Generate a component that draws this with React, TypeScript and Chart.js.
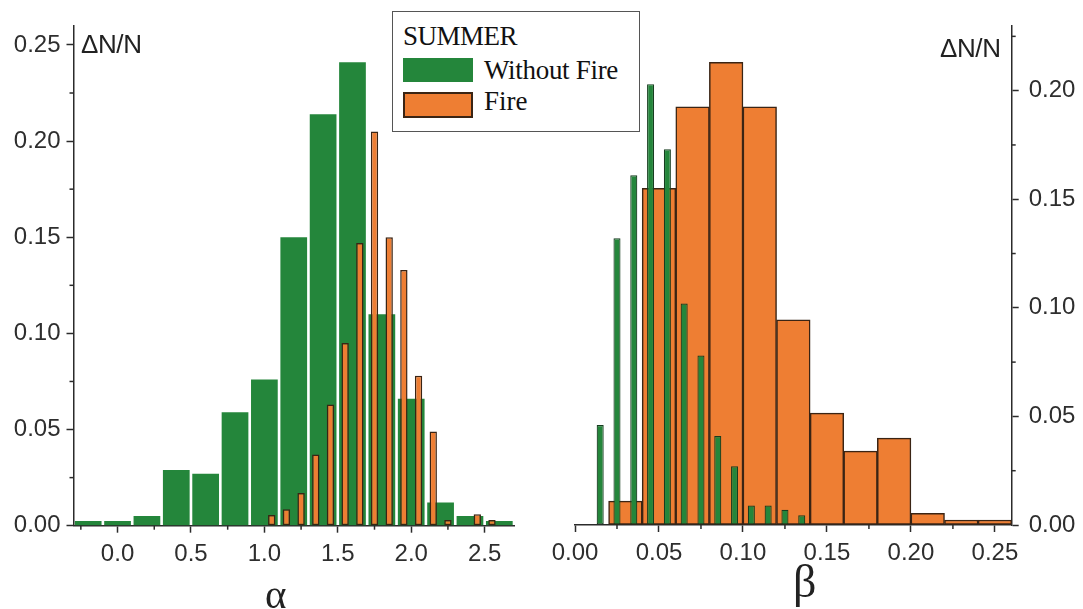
import React, { useEffect, useRef } from "react";
import { Chart, registerables } from "chart.js";

Chart.register(...registerables);

// ---------- data ----------
const alphaGreenCenters = [-0.2, 0.0, 0.2, 0.4, 0.6, 0.8, 1.0, 1.2, 1.4, 1.6, 1.8, 2.0, 2.2, 2.4, 2.6];
const alphaGreenValues = [0.0025, 0.0025, 0.005, 0.029, 0.027, 0.059, 0.076, 0.150, 0.214, 0.241, 0.110, 0.066, 0.012, 0.005, 0.0025];

const alphaFireCenters = [1.05, 1.15, 1.25, 1.35, 1.45, 1.55, 1.65, 1.75, 1.85, 1.95, 2.05, 2.15, 2.25, 2.35, 2.45, 2.55];
const alphaFireValues = [0.0055, 0.0085, 0.017, 0.037, 0.063, 0.095, 0.147, 0.205, 0.150, 0.133, 0.078, 0.049, 0.003, 0, 0.006, 0.003];

const betaGreenCenters = [0.015, 0.025, 0.035, 0.045, 0.055, 0.065, 0.075, 0.085, 0.095, 0.105, 0.115, 0.125, 0.135];
const betaGreenValues = [0.046, 0.132, 0.161, 0.203, 0.173, 0.102, 0.078, 0.041, 0.027, 0.009, 0.009, 0.007, 0.0045];

const betaFireCenters = [0.03, 0.05, 0.07, 0.09, 0.11, 0.13, 0.15, 0.17, 0.19, 0.21, 0.23, 0.25];
const betaFireValues = [0.011, 0.155, 0.1925, 0.213, 0.1925, 0.0945, 0.0515, 0.034, 0.040, 0.0054, 0.0023, 0.0023];

const alphaXTicks = [0.0, 0.5, 1.0, 1.5, 2.0, 2.5];
const alphaXMinor = [-0.25, 0.25, 0.75, 1.25, 1.75, 2.25];
const alphaYTicks = [0.0, 0.05, 0.1, 0.15, 0.2, 0.25];
const alphaYMinor = [0.025, 0.075, 0.125, 0.175, 0.225];

const betaXTicks = [0.0, 0.05, 0.1, 0.15, 0.2, 0.25];
const betaXMinor = [0.025, 0.075, 0.125, 0.175, 0.225];
const betaYTicks = [0.0, 0.05, 0.1, 0.15, 0.2];
const betaYMinor = [0.025, 0.075, 0.125, 0.175, 0.225];

const legendTitle = "SUMMER";
const seriesNames = ["Without Fire", "Fire"];
const yTitle = "ΔN/N";

// ---------- styles ----------
const GREEN = "#24863b";
const ORANGE = "#ee7e33";
const DARK = "#3a2414";
const AXIS = "#2b2b2b";
const SANS = "'Liberation Sans', Arial, sans-serif";
const SERIF = "'Liberation Serif', 'Times New Roman', serif";

const minorTickPlugin = {
  id: "minorTicks",
  afterDraw(chart: any, _args: any, opts: any) {
    const ctx = chart.ctx;
    ctx.save();
    ctx.strokeStyle = opts.color;
    ctx.lineWidth = opts.width;
    for (const id of Object.keys(opts.axes || {})) {
      const s = chart.scales[id];
      if (!s) continue;
      for (const v of opts.axes[id]) {
        const p = s.getPixelForValue(v);
        ctx.beginPath();
        if (s.isHorizontal()) {
          ctx.moveTo(p, s.top);
          ctx.lineTo(p, s.top + opts.length);
        } else if (s.position === "left") {
          ctx.moveTo(s.right, p);
          ctx.lineTo(s.right - opts.length, p);
        } else {
          ctx.moveTo(s.left, p);
          ctx.lineTo(s.left + opts.length, p);
        }
        ctx.stroke();
      }
    }
    ctx.restore();
  },
};

const toPts = (xs: number[], ys: number[]) => xs.map((x, i) => ({ x, y: ys[i] }));
const setTicks = (vals: number[]) => (s: any) => {
  s.ticks = vals.map((v) => ({ value: v }));
};

function axisBase(min: number, max: number, ticks: number[], digits: number, pad: number, extra: any) {
  return {
    type: "linear",
    min,
    max,
    offset: false,
    afterBuildTicks: setTicks(ticks),
    ticks: {
      callback: (v: number) => Number(v).toFixed(digits),
      font: { family: SANS, size: 24 },
      color: "#2e2e2e",
      padding: pad,
      maxRotation: 0,
      autoSkip: false,
    },
    grid: {
      display: true,
      drawOnChartArea: false,
      drawTicks: true,
      tickLength: 7,
      tickColor: AXIS,
      tickWidth: 1.5,
      offset: false,
    },
    border: { display: true, color: AXIS, width: 1.5 },
    ...extra,
  };
}

function hiddenAxis(min: number, max: number, ticks: number[]) {
  return {
    type: "linear",
    min,
    max,
    offset: false,
    display: false,
    afterBuildTicks: setTicks(ticks),
    grid: { offset: false },
  };
}

const baseOptions = {
  responsive: false,
  animation: false,
  events: [],
  plugins: { legend: { display: false }, tooltip: { enabled: false } },
};

function makeAlpha(canvas: HTMLCanvasElement) {
  return new Chart(canvas, {
    type: "bar",
    data: {
      datasets: [
        {
          label: seriesNames[1],
          data: toPts(alphaFireCenters, alphaFireValues),
          xAxisID: "x2",
          grouped: false,
          backgroundColor: ORANGE,
          borderColor: DARK,
          borderWidth: 1.5,
          borderSkipped: false,
          barPercentage: 0.5,
          categoryPercentage: 1,
          order: 0,
        },
        {
          label: seriesNames[0],
          data: toPts(alphaGreenCenters, alphaGreenValues),
          xAxisID: "x",
          grouped: false,
          backgroundColor: GREEN,
          borderWidth: 0,
          barPercentage: 0.91,
          categoryPercentage: 1,
          order: 1,
        },
      ],
    },
    options: {
      ...baseOptions,
      layout: { padding: { left: 0, top: 25.7, right: 26, bottom: 43.3 } },
      scales: {
        x: axisBase(-0.3, 2.7, alphaXTicks, 1, 7, { position: "bottom", afterFit: (s: any) => { s.height = 40; } }),
        x2: hiddenAxis(-0.3, 2.7, alphaXTicks),
        y: axisBase(0, 0.26, alphaYTicks, 2, 6, { position: "left", afterFit: (s: any) => { s.width = 73.5; } }),
      },
      plugins: {
        ...baseOptions.plugins,
        minorTicks: { axes: { x: alphaXMinor, y: alphaYMinor }, length: 4, color: AXIS, width: 1.5 },
      },
    } as any,
    plugins: [minorTickPlugin],
  } as any);
}

function makeBeta(canvas: HTMLCanvasElement) {
  return new Chart(canvas, {
    type: "bar",
    data: {
      datasets: [
        {
          label: seriesNames[0],
          data: toPts(betaGreenCenters, betaGreenValues),
          xAxisID: "x2",
          grouped: false,
          backgroundColor: GREEN,
          borderColor: "#173d20",
          borderWidth: 1.2,
          borderSkipped: false,
          barPercentage: 0.42,
          categoryPercentage: 1,
          order: 0,
        },
        {
          label: seriesNames[1],
          data: toPts(betaFireCenters, betaFireValues),
          xAxisID: "x",
          grouped: false,
          backgroundColor: ORANGE,
          borderColor: DARK,
          borderWidth: 1.5,
          borderSkipped: false,
          barPercentage: 1,
          categoryPercentage: 1,
          order: 1,
        },
      ],
    },
    options: {
      ...baseOptions,
      layout: { padding: { left: 35, top: 25.5, right: 0, bottom: 44 } },
      scales: {
        x: axisBase(0, 0.26, betaXTicks, 2, 7, { position: "bottom", afterFit: (s: any) => { s.height = 40; } }),
        x2: hiddenAxis(0, 0.26, betaXTicks),
        y: axisBase(0, 0.23, betaYTicks, 2, 10, { position: "right", afterFit: (s: any) => { s.width = 71.3; } }),
      },
      plugins: {
        ...baseOptions.plugins,
        minorTicks: { axes: { x: betaXMinor, y: betaYMinor }, length: 4, color: AXIS, width: 1.5 },
      },
    } as any,
    plugins: [minorTickPlugin],
  } as any);
}

export default function App() {
  const leftRef = useRef<HTMLCanvasElement>(null);
  const rightRef = useRef<HTMLCanvasElement>(null);

  useEffect(() => {
    const a = makeAlpha(leftRef.current!);
    const b = makeBeta(rightRef.current!);
    return () => {
      a.destroy();
      b.destroy();
    };
  }, []);

  const abs = (l: number, t: number): React.CSSProperties => ({ position: "absolute", left: l, top: t });

  return (
    <div style={{ position: "absolute", left: 0, top: 0, width: 1083, height: 609, background: "#fff", overflow: "hidden" }}>
      <canvas ref={leftRef} width={540} height={609} style={{ ...abs(0, 0), width: 540, height: 609 }} />
      <canvas ref={rightRef} width={543} height={609} style={{ ...abs(540, 0), width: 543, height: 609 }} />

      <div style={{ ...abs(81, 31), font: `26px ${SANS}`, lineHeight: "26px", color: "#222", letterSpacing: "-0.4px", whiteSpace: "nowrap" }}>{yTitle}</div>
      <div style={{ ...abs(940, 35), font: `26px ${SANS}`, lineHeight: "26px", color: "#222", letterSpacing: "-0.4px", whiteSpace: "nowrap" }}>{yTitle}</div>

      <div style={{ ...abs(265, 574), font: `41px ${SERIF}`, lineHeight: "41px", color: "#222" }}>α</div>
      <div style={{ ...abs(793, 559), font: `46px ${SERIF}`, lineHeight: "46px", color: "#222" }}>β</div>

      <div style={{ ...abs(392, 11), width: 246, height: 119, border: "1px solid #555", background: "#fff", boxSizing: "content-box" }}>
        <div style={{ ...abs(10, 11), font: `27px ${SERIF}`, lineHeight: "27px", color: "#111", whiteSpace: "nowrap", letterSpacing: "-0.5px" }}>{legendTitle}</div>
        <div style={{ ...abs(10, 46), width: 70, height: 24, background: GREEN }} />
        <div style={{ ...abs(91, 45), font: `27px ${SERIF}`, lineHeight: "27px", color: "#111", whiteSpace: "nowrap", letterSpacing: "-0.3px" }}>{seriesNames[0]}</div>
        <div style={{ ...abs(10, 80), width: 66, height: 22, background: ORANGE, border: `2px solid ${DARK}` }} />
        <div style={{ ...abs(91, 76), font: `27px ${SERIF}`, lineHeight: "27px", color: "#111", whiteSpace: "nowrap" }}>{seriesNames[1]}</div>
      </div>
    </div>
  );
}
